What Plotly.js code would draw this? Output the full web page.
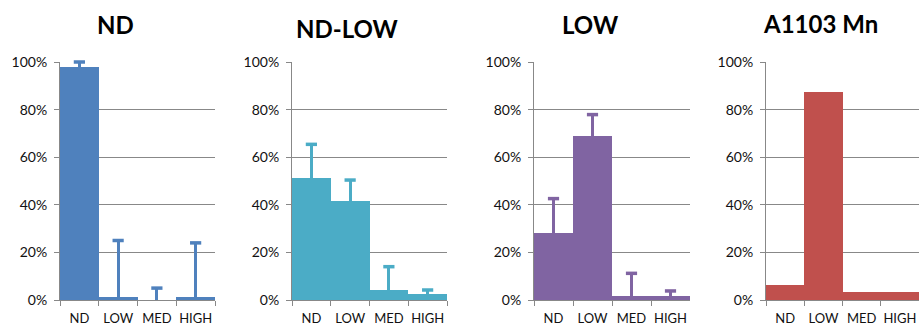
<!DOCTYPE html>
<html>
<head>
<meta charset="utf-8">
<script src="https://cdn.plot.ly/plotly-3.0.1.min.js"></script>
<style>html,body{margin:0;padding:0;background:#fff;}#chart{width:919px;height:329px;}</style>
</head>
<body>
<div id="chart"></div>
<script>
// ---- data ----
const categories = ["ND", "LOW", "MED", "HIGH"];
const panelTitles = ["ND", "ND-LOW", "LOW", "A1103 Mn"];

const ndValues = [0.98, 0.012, 0.0, 0.012];
const ndErrors = [0.02, 0.238, 0.05, 0.228];

const ndLowValues = [0.511, 0.416, 0.043, 0.024];
const ndLowErrors = [0.143, 0.088, 0.097, 0.018];

const lowValues = [0.28, 0.688, 0.018, 0.018];
const lowErrors = [0.146, 0.091, 0.094, 0.02];

const mnValues = [0.063, 0.874, 0.032, 0.032];

const colors = ["#4F81BD", "#4BACC6", "#8064A2", "#C0504D"];

// ---- layout helpers ----
const W = 919, H = 329;
const xPix = [[60, 215], [292, 447], [534, 690], [766, 919]];
const yTop = 62, yBot = 300;
const titleX = [115, 347, 590, 820];
const titleY = [25, 28, 25, 23];

const series = [
  {y: ndValues, err: ndErrors},
  {y: ndLowValues, err: ndLowErrors},
  {y: lowValues, err: lowErrors},
  {y: mnValues, err: null}
];

const font = "Lato, 'Liberation Sans', sans-serif";
const traces = [];
const layout = {
  width: W, height: H,
  margin: {l: 0, r: 0, t: 0, b: 0},
  paper_bgcolor: "#fff", plot_bgcolor: "#fff",
  showlegend: false,
  bargap: 0,
  font: {family: font, size: 13, color: "#222"},
  annotations: []
};

series.forEach((s, i) => {
  const n = i === 0 ? "" : String(i + 1);
  const t = {
    type: "bar",
    x: categories,
    y: s.y,
    xaxis: "x" + n, yaxis: "y" + n,
    marker: {color: colors[i], line: {width: 0}},
    hoverinfo: "skip"
  };
  if (s.err) {
    t.error_y = {
      type: "data", symmetric: false,
      array: s.err, arrayminus: s.err.map(() => 0),
      color: colors[i], thickness: 3, width: 0
    };
  }
  traces.push(t);
  if (s.err) {
    // caps at the top end of each error bar
    traces.push({
      type: "scatter", mode: "markers",
      x: categories,
      y: s.y.map((v, k) => v + s.err[k]),
      xaxis: "x" + n, yaxis: "y" + n,
      cliponaxis: false,
      marker: {symbol: "line-ew", size: 8, line: {width: 3.5, color: colors[i]}},
      hoverinfo: "skip"
    });
  }
  layout["xaxis" + n] = {
    domain: [xPix[i][0] / W, xPix[i][1] / W],
    anchor: "y" + n,
    type: "category",
    tickson: "boundaries",
    tickangle: 0,
    ticks: "outside", ticklen: 5, tickcolor: "#888", tickwidth: 1,
    showline: true, linecolor: "#888", linewidth: 1,
    showgrid: false,
    ticklabelstandoff: 6,
    tickfont: {family: font, size: 13, color: "#111"},
    fixedrange: true
  };
  layout["yaxis" + n] = {
    domain: [(H - yBot) / H, (H - yTop) / H],
    anchor: "x" + n,
    range: [0, 1],
    dtick: 0.2, tick0: 0,
    tickformat: ".0%",
    ticks: "outside", ticklen: 5, tickcolor: "#888",
    showline: true, linecolor: "#888", linewidth: 1,
    showgrid: true, gridcolor: "#888", gridwidth: 1,
    zeroline: false,
    ticklabelstandoff: 4,
    tickfont: {family: font, size: 14, color: "#111"},
    fixedrange: true
  };
  layout.annotations.push({
    text: "<b>" + panelTitles[i] + "</b>",
    xref: "paper", yref: "paper",
    x: titleX[i] / W, y: (H - titleY[i]) / H,
    xanchor: "center", yanchor: "middle",
    showarrow: false,
    font: {family: font, size: 24, color: "#000"}
  });
});

Plotly.newPlot("chart", traces, layout, {displayModeBar: false, staticPlot: true});
</script>
</body>
</html>
